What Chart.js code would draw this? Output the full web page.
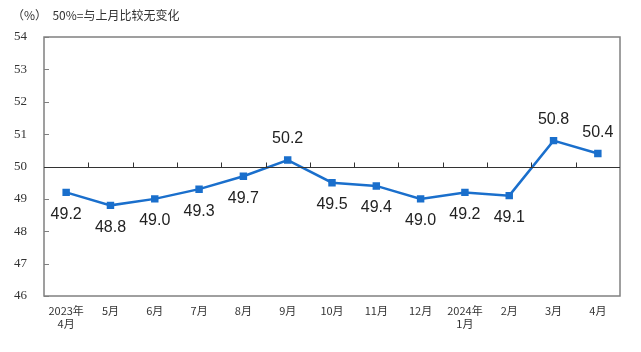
<!DOCTYPE html>
<html lang="zh">
<head>
  <meta charset="UTF-8" />
  <title>PMI</title>
  <script src="https://cdn.jsdelivr.net/npm/chart.js"></script>
  <style>
    html, body { margin: 0; padding: 0; background: #fff; }
    #wrap { position: relative; width: 641px; height: 352px; }
    #note { position: absolute; left: 12px; top: 6px; font: 12px "Noto Sans CJK SC", sans-serif; color: #333; }
  </style>
</head>
<body>
  <div id="wrap">
    <canvas id="pmiChart" width="641" height="352"></canvas>
    <div id="note">（%）&nbsp;&nbsp;50%=与上月比较无变化</div>
  </div>

  <script>
    // data
    const months = [["2023年", "4月"], "5月", "6月", "7月", "8月", "9月", "10月", "11月", "12月", ["2024年", "1月"], "2月", "3月", "4月"];
    const pmi = [49.2, 48.8, 49.0, 49.3, 49.7, 50.2, 49.5, 49.4, 49.0, 49.2, 49.1, 50.8, 50.4];
    const yTicks = [46, 47, 48, 49, 50, 51, 52, 53, 54];

    // frame, inner ticks, 50 line and value labels
    const decor = {
      id: "decor",
      afterDatasetsDraw(chart) {
        const ctx = chart.ctx;
        const a = chart.chartArea;
        const x = chart.scales.x;
        const y = chart.scales.y;
        ctx.save();
        ctx.strokeStyle = "#808080";
        ctx.lineWidth = 1.5;
        ctx.strokeRect(a.left, a.top, a.right - a.left, a.bottom - a.top);

        ctx.lineWidth = 1;
        yTicks.forEach(v => {
          const py = Math.round(y.getPixelForValue(v)) + 0.5;
          ctx.beginPath();
          ctx.moveTo(a.left, py);
          ctx.lineTo(a.left + 5, py);
          ctx.stroke();
        });

        const y50 = Math.round(y.getPixelForValue(50)) + 0.5;
        ctx.strokeStyle = "#333";
        ctx.beginPath();
        ctx.moveTo(a.left, y50);
        ctx.lineTo(a.right, y50);
        ctx.stroke();
        const step = (a.right - a.left) / months.length;
        for (let i = 1; i < months.length; i++) {
          const px = Math.round(a.left + i * step) + 0.5;
          ctx.beginPath();
          ctx.moveTo(px, y50);
          ctx.lineTo(px, y50 - 5);
          ctx.stroke();
        }

        ctx.fillStyle = "#222";
        ctx.font = "16px 'Liberation Sans', Arial, sans-serif";
        ctx.textAlign = "center";
        ctx.textBaseline = "middle";
        pmi.forEach((v, i) => {
          const px = x.getPixelForValue(i);
          const py = y.getPixelForValue(v);
          const above = v > 50;
          ctx.fillText(v.toFixed(1), px, above ? py - 21 : py + 22);
        });
        ctx.restore();
      }
    };

    new Chart(document.getElementById("pmiChart"), {
      type: "line",
      data: {
        labels: months,
        datasets: [{
          data: pmi,
          borderColor: "#1A6FCC",
          backgroundColor: "#1A6FCC",
          borderWidth: 2.5,
          pointStyle: "rect",
          pointRadius: 3.5,
          pointHoverRadius: 3.5,
          tension: 0
        }]
      },
      options: {
        responsive: false,
        animation: false,
        layout: { padding: { top: 37, right: 21, left: 0, bottom: 0 } },
        plugins: { legend: { display: false }, tooltip: { enabled: false } },
        scales: {
          x: {
            offset: true,
            grid: { display: false, drawTicks: false },
            border: { display: false },
            ticks: {
              padding: 8,
              maxRotation: 0,
              autoSkip: false,
              color: "#333",
              font: { family: "'Noto Sans CJK SC', sans-serif", size: 11 }
            },
            afterFit(s) { s.height = 56; }
          },
          y: {
            min: 46,
            max: 54,
            grid: { display: false, drawTicks: false },
            border: { display: false },
            ticks: {
              stepSize: 1,
              padding: 17,
              color: "#333",
              font: { family: "'Liberation Serif', serif", size: 13 }
            },
            afterFit(s) { s.width = 44; }
          }
        }
      },
      plugins: [decor]
    });
  </script>
</body>
</html>
